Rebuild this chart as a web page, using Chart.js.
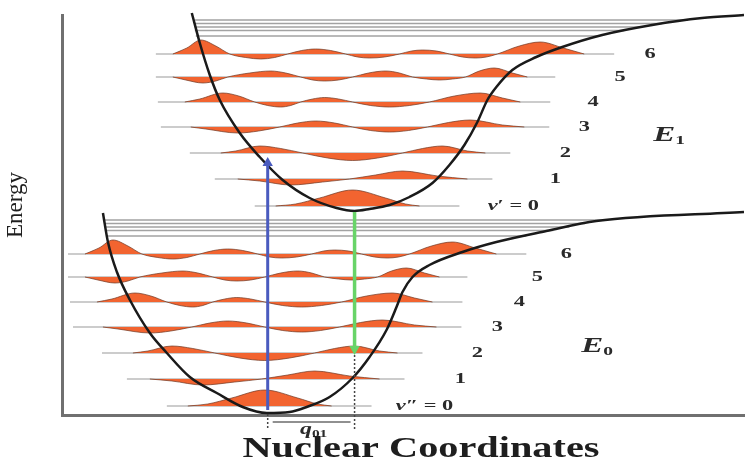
<!DOCTYPE html>
<html>
<head>
<meta charset="utf-8">
<script src="https://cdn.jsdelivr.net/npm/chart.js@4.4.0/dist/chart.umd.min.js"></script>
<style>
  html, body { margin: 0; padding: 0; background: #fff; }
  #wrap { width: 750px; height: 462px; }
</style>
</head>
<body>
<div id="wrap"><canvas id="fc"></canvas></div>
<script>
// values: x = nuclear coordinate, y = energy (arbitrary units)
var groundCurve = [[41,202],[46,173],[55,143],[68,115],[88,82],[105,62],[128,38],[155,22],[181,8],[205,2],[228,3],[245,8],[268,18],[291,37],[308,58],[325,85],[335,108],[341,123],[351,138],[368,150],[401,163],[435,173],[485,184],[535,194],[683,203]];
var excitedCurve = [[130,402],[138,372],[148,340],[158,315],[178,282],[198,258],[221,235],[248,217],[275,207],[293,204],[308,206],[328,210],[348,218],[371,232],[388,250],[403,270],[416,293],[426,315],[435,328],[451,345],[475,358],[501,368],[541,380],[591,390],[641,397],[683,400]];

// vibrational levels v = 0..6 of the ground state
var levelEnergy = [9, 36, 62, 88, 113, 138, 161];
var levelSpan = [[105,310],[65,343],[40,361],[11,400],[8,401],[6,406],[6,465]];
// wavefunction [x, amplitude above the level]
var wave0 = [[126,0],[146,2],[170,8],[203,16],[236,8],[256,2],[270,0]];
var wave1 = [[88,0],[110,-2],[141,-6],[173,-3],[200,0],[226,4],[253,8],[288,3],[318,0]];
var wave2 = [[71,0],[86,2],[110,7],[131,4.5],[153,0],[178,-5],[203,-7.5],[228,-5],[253,0],[273,4.5],[293,7],[318,2],[336,0]];
var wave3 = [[41,0],[56,-2],[88,-6],[109,-4],[130,0],[148,4],[166,6],[185,4],[203,0],[221,-3.5],[240,-5],[259,-3.5],[278,0],[299,4.5],[321,7],[353,2],[375,0]];
var wave4 = [[35,0],[50,3],[73,9],[89,6],[105,0],[118,-3.5],[131,-5],[141,-3.5],[151,0],[163,3],[175,4.5],[189,3],[203,0],[221,-3.5],[240,-5],[260,-3.5],[280,0],[305,6],[331,9],[353,4],[371,0]];
var wave5 = [[23,0],[36,-3],[53,-6],[66,-4],[78,0],[100,4],[121,6],[136,4],[151,0],[163,-3],[175,-4],[189,-3],[203,0],[219,4],[236,6],[250,4],[263,0],[277,-2],[290,-3],[303,-2],[316,0],[330,6],[345,9],[363,4],[378,0]];
var wave6 = [[23,0],[37,6],[51,14],[66,8],[80,0],[96,-3.5],[111,-5],[125,-3.5],[138,0],[152,3.5],[166,5],[181,3.5],[196,0],[208,-3],[220,-4],[235,-3],[250,0],[262,3],[273,4],[287,3],[300,0],[313,-3],[326,-4],[337,-3],[348,0],[370,8],[391,12],[414,6],[435,0]];
var waves = [wave0, wave1, wave2, wave3, wave4, wave5, wave6];

// excited state = ground state displaced by q01 and raised by the gap
var q01 = 88, gap = 200;

// closely spaced levels near dissociation [start, end, energy]
var groundLimit = [[43,545,195],[43,524,191.5],[43,508,188],[43,492,184.5],[44,465,179]];
var excitedLimit = [[133,627,395],[133,601,391.5],[133,581,388],[133,563,384.5],[134,538,379]];

var absorption = [[206,5],[206,252]];
var emission = [[293,203],[293,66]];
var q01Arrow = [[211,-7],[289,-7]];
var q01GuideLeft = [[206,1],[206,-15]];
var q01GuideRight = [[293,60],[293,-15]];

var groundLabels = ['v\u2033', '1', '2', '3', '4', '5', '6'];
var excitedLabels = ['v\u2032', '1', '2', '3', '4', '5', '6'];

var ORANGE = '#f26430';
var SERIF = '"Liberation Serif", "DejaVu Serif", serif';

function pts(a, dx, dy) {
    return a.map(function (p) { return { x: p[0] + (dx || 0), y: p[1] + (dy || 0) }; });
}
function line(data, color, width, extra) {
    return Object.assign({
        data: data, borderColor: color, borderWidth: width,
        pointRadius: 0, fill: false, clip: false, tension: 0
    }, extra || {});
}

var front = [], fills = [], bases = [];
// arrows
front.push(line(pts(absorption), '#4a5bbf', 3, {
    pointRadius: [0, 6], pointStyle: 'triangle', pointBackgroundColor: '#4a5bbf', pointBorderWidth: 0
}));
front.push(line(pts(emission), '#68d468', 3.5, {
    pointRadius: [0, 6], pointStyle: 'triangle', pointRotation: 180, pointBackgroundColor: '#68d468', pointBorderWidth: 0
}));
front.push(line(pts(q01Arrow), '#222', 1.2, {
    pointRadius: 4, pointStyle: 'triangle', pointRotation: [270, 90], pointBackgroundColor: '#222', pointBorderWidth: 0
}));
front.push(line(pts(q01GuideLeft), '#444', 1.5, { borderDash: [2, 2] }));
front.push(line(pts(q01GuideRight), '#444', 1.5, { borderDash: [2, 2] }));
// potentials
front.push(line(pts(groundCurve), '#1a1a1a', 2.5, { cubicInterpolationMode: 'monotone' }));
front.push(line(pts(excitedCurve), '#1a1a1a', 2.5, { cubicInterpolationMode: 'monotone' }));

[[0, 0], [q01, gap]].forEach(function (s) {
    waves.forEach(function (w, v) {
        var e = levelEnergy[v] + s[1];
        fills.push(line(pts(w, s[0], e), 'rgba(110,55,35,0.7)', 1, {
            cubicInterpolationMode: 'monotone', fill: { value: e }, backgroundColor: ORANGE
        }));
        bases.push(line([{ x: levelSpan[v][0] + s[0], y: e }, { x: levelSpan[v][1] + s[0], y: e }], '#9a9a9a', 1.2));
    });
});
groundLimit.concat(excitedLimit).forEach(function (l) {
    bases.push(line([{ x: l[0], y: l[2] }, { x: l[1], y: l[2] }], '#a2a2a2', 1.6));
});

function drawRuns(ctx, runs, cx, cy, sx) {
    var w = 0;
    runs.forEach(function (r) { ctx.font = r.font; r.w = ctx.measureText(r.t).width; w += r.w; });
    ctx.save();
    ctx.translate(cx, cy);
    ctx.scale(sx, 1);
    var x = -w / 2;
    runs.forEach(function (r) {
        ctx.font = r.font;
        ctx.fillText(r.t, x, r.dy || 0);
        x += r.w;
    });
    ctx.restore();
}

var labelPlugin = {
    id: 'labels',
    afterDraw: function (chart) {
        var ctx = chart.ctx, xs = chart.scales.x, ys = chart.scales.y;
        var X = function (v) { return xs.getPixelForValue(v); };
        var Y = function (v) { return ys.getPixelForValue(v); };
        ctx.save();
        ctx.fillStyle = '#2a2a2a';
        ctx.textBaseline = 'middle';
        ctx.textAlign = 'left';
        var groundX = [363, 399, 416, 436, 458, 476, 505];
        var excitedX = [452, 494, 504, 523, 532, 559, 589];
        var num = 'bold 14px ' + SERIF;
        [[groundLabels, groundX, 0], [excitedLabels, excitedX, gap]].forEach(function (set) {
            set[0].forEach(function (t, v) {
                var runs = v === 0
                    ? [{ t: 'v', font: 'italic bold 14px ' + SERIF }, { t: set[0][0].slice(1) + ' = 0', font: num }]
                    : [{ t: t, font: num }];
                drawRuns(ctx, runs, X(set[1][v]), Y(levelEnergy[v] + set[2]), 1.6);
            });
        });
        drawRuns(ctx, [{ t: 'E', font: 'italic bold 22px ' + SERIF }, { t: '1', font: 'bold 13px ' + SERIF, dy: 6 }], X(608), Y(280), 1.5);
        drawRuns(ctx, [{ t: 'E', font: 'italic bold 22px ' + SERIF }, { t: '0', font: 'bold 13px ' + SERIF, dy: 6 }], X(536), Y(69), 1.5);
        drawRuns(ctx, [{ t: 'q', font: 'italic bold 17px ' + SERIF }, { t: '01', font: 'bold 11px ' + SERIF, dy: 4 }], X(252), Y(-15), 1.4);
        // axis titles
        ctx.fillStyle = '#1e1e1e';
        ctx.font = 'bold 29px ' + SERIF;
        var tw = ctx.measureText('Nuclear Coordinates').width;
        drawRuns(ctx, [{ t: 'Nuclear Coordinates', font: 'bold 29px ' + SERIF }], 421, 450, 357 / tw);
        ctx.translate(16, 205);
        ctx.rotate(-Math.PI / 2);
        ctx.textAlign = 'center';
        ctx.font = '23px ' + SERIF;
        ctx.fillText('Energy', 0, 0);
        ctx.restore();
    }
};

new Chart(document.getElementById('fc'), {
    type: 'line',
    data: { datasets: front.concat(fills, bases) },
    options: {
        responsive: true,
        maintainAspectRatio: false,
        animation: false,
        layout: { padding: { top: 15, right: 5, left: 0, bottom: 0 } },
        plugins: { legend: { display: false }, tooltip: { enabled: false } },
        scales: {
            x: {
                type: 'linear', min: 0, max: 683,
                ticks: { display: false }, grid: { display: false },
                border: { display: true, color: '#707070', width: 3 },
                afterFit: function (s) { s.height = 47; }
            },
            y: {
                type: 'linear', min: 0, max: 400,
                ticks: { display: false }, grid: { display: false },
                border: { display: true, color: '#707070', width: 3 },
                afterFit: function (s) { s.width = 62; }
            }
        }
    },
    plugins: [labelPlugin]
});
</script>
</body>
</html>
